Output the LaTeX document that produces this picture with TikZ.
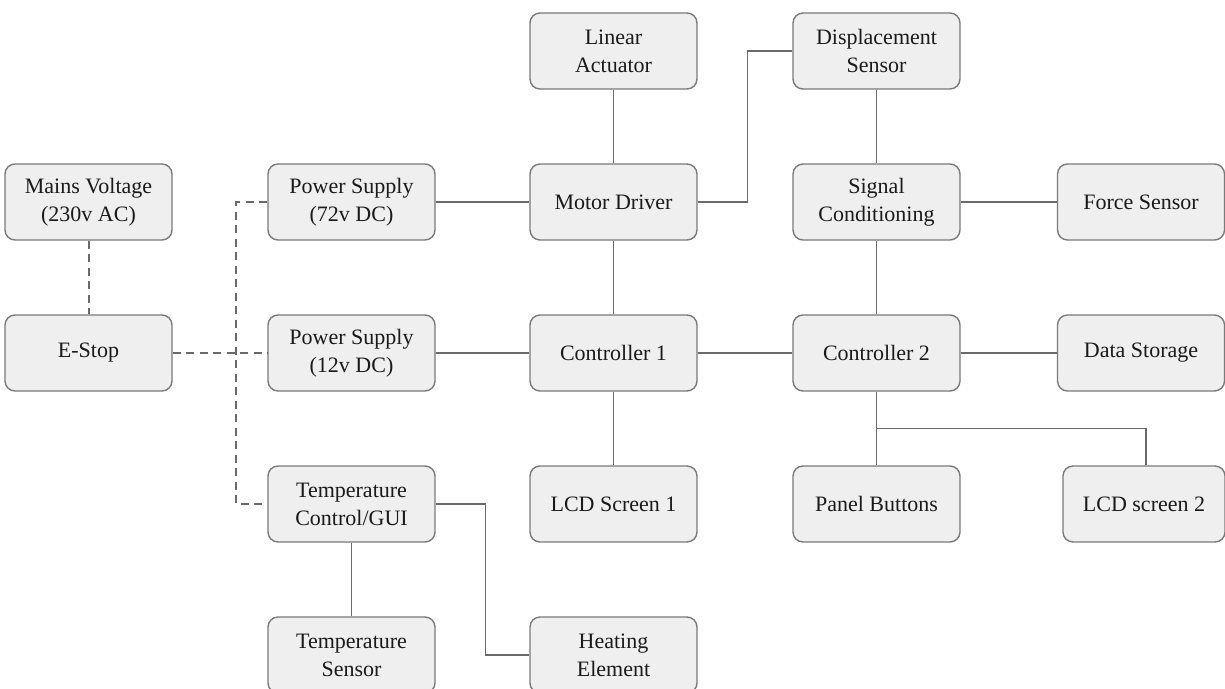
\documentclass[tikz,border=0pt]{standalone}
\usepackage{fontspec}
\setmainfont{Liberation Serif}
\usetikzlibrary{positioning}
\definecolor{boxfill}{HTML}{EFEFEF}
\definecolor{boxdraw}{HTML}{7A7A7A}
\definecolor{linecol}{HTML}{6A6A6A}
\definecolor{txtcol}{HTML}{1A1A1A}
\begin{document}
\begin{tikzpicture}[x=1pt,y=-1pt,
  blk/.style={draw=boxdraw, fill=boxfill, line width=1.4pt, rounded corners=10pt,
    minimum width=167pt, minimum height=76pt, inner sep=0pt, align=center,
    text=txtcol, font=\fontsize{22}{28}\selectfont},
  wire/.style={draw=linecol, line width=1.4pt},
  dwire/.style={draw=linecol, line width=2pt, dash pattern=on 8pt off 5.5pt}]
\clip (0,0) rectangle (1225,688);
\fill[white] (0,0) rectangle (1225,688);
% column 0
\node[blk] (mains) at (88.5,202) {Mains Voltage\\(230v AC)};
\node[blk] (estop) at (88.5,353) {E-Stop};
% column 1
\node[blk] (ps72) at (351.5,202) {Power Supply\\(72v DC)};
\node[blk] (ps12) at (351.5,353) {Power Supply\\(12v DC)};
\node[blk] (tc) at (351.5,504) {Temperature\\Control/GUI};
\node[blk] (tsens) at (351.5,655) {Temperature\\Sensor};
% column 2
\node[blk] (la) at (613.5,51) {Linear\\Actuator};
\node[blk] (md) at (613.5,202) {Motor Driver};
\node[blk] (c1) at (613.5,353) {Controller 1};
\node[blk] (lcd1) at (613.5,504) {LCD Screen 1};
\node[blk] (he) at (613.5,655) {Heating\\Element};
% column 3
\node[blk] (ds) at (876.5,51) {Displacement\\Sensor};
\node[blk] (sc) at (876.5,202) {Signal\\Conditioning};
\node[blk] (c2) at (876.5,353) {Controller 2};
\node[blk] (pb) at (876.5,504) {Panel Buttons};
% column 4
\node[blk] (fs) at (1141,202) {Force Sensor};
\node[blk] (dst) at (1141,353) {Data Storage};
\node[blk, minimum width=162pt] (lcd2) at (1144,504) {LCD screen 2};
% dashed power links
\draw[dwire] (mains) -- (estop);
\draw[dwire] (estop) -- (ps12);
\draw[dwire] (ps72.west) -- ++(-31,0) coordinate (dj) |- (tc.west);
% solid links
\draw[wire] (ps72) -- (md);
\draw[wire] (ps12) -- (c1);
\draw[wire] (la) -- (md);
\draw[wire] (md) -- (c1);
\draw[wire] (c1) -- (lcd1);
\draw[wire] (md.east) -- ++(50,0) coordinate (mdj) |- (ds.west);
\draw[wire] (ds) -- (sc);
\draw[wire] (sc) -- (fs);
\draw[wire] (sc) -- (c2);
\draw[wire] (c1) -- (c2);
\draw[wire] (c2) -- (dst);
\draw[wire] (c2) -- (pb);
\draw[wire] (c2.south) -- ++(0,37) coordinate (c2j) -| ([xshift=2pt]lcd2.north);
\draw[wire] (tc) -- (tsens);
\draw[wire] (tc.east) -- ++(50,0) coordinate (tcj) |- (he.west);
\end{tikzpicture}
\end{document}
